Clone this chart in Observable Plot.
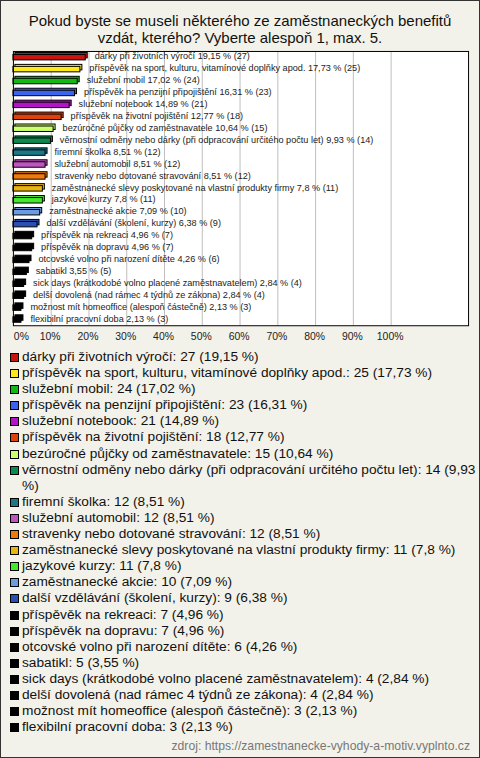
<!DOCTYPE html>
<html>
<head>
<meta charset="utf-8">
<script src="https://cdn.jsdelivr.net/npm/d3@7"></script>
<script src="https://cdn.jsdelivr.net/npm/@observablehq/plot@0.6"></script>
<style>
  html, body { margin: 0; padding: 0; }
  body { width: 480px; height: 758px; overflow: hidden; }
  #page { position: relative; width: 480px; height: 758px; box-sizing: border-box; border: 1px solid #333; background: #f3f2ea; font-family: "Liberation Sans", Arial, sans-serif; overflow: hidden; }
  #title { position: absolute; top: 11px; left: 0; width: 478px; text-align: center; font-size: 15px; line-height: 17px; color: #111; white-space: nowrap; }
  #chart { position: absolute; top: 45px; left: -1px; }
  #legend { position: absolute; top: 348px; left: 9px; width: 477px; font-size: 13.7px; line-height: 16.1px; color: #111; }
  .item { display: flex; align-items: flex-start; }
  .sw { flex: none; width: 7px; height: 7px; border: 1px solid #000; margin-top: 4px; margin-right: 3px; }
  .tx { flex: 1; }
  #footer { position: absolute; top: 738px; right: 9px; font-size: 12.2px; color: #777; }
</style>
</head>
<body>
<div id="page">
  <div id="title">Pokud byste se museli některého ze zaměstnaneckých benefitů<br>vzdát, kterého? Vyberte alespoň 1, max. 5.</div>
  <div id="chart"></div>
  <div id="legend"></div>
  <div id="footer">zdroj: https://zamestnanecke-vyhody-a-motiv.vyplnto.cz</div>
</div>
<script>
const names = [
  "dárky při životních výročí",
  "příspěvěk na sport, kulturu, vitamínové doplňky apod.",
  "služební mobil",
  "příspěvěk na penzijní připojištění",
  "služební notebook",
  "příspěvěk na životní pojištění",
  "bezúročné půjčky od zaměstnavatele",
  "věrnostní odměny nebo dárky (při odpracování určitého počtu let)",
  "firemní školka",
  "služební automobil",
  "stravenky nebo dotované stravování",
  "zaměstnanecké slevy poskytované na vlastní produkty firmy",
  "jazykové kurzy",
  "zaměstnanecké akcie",
  "další vzdělávání (školení, kurzy)",
  "příspěvěk na rekreaci",
  "příspěvěk na dopravu",
  "otcovské volno při narození dítěte",
  "sabatikl",
  "sick days (krátkodobé volno placené zaměstnavatelem)",
  "delší dovolená (nad rámec 4 týdnů ze zákona)",
  "možnost mít homeoffice (alespoň částečně)",
  "flexibilní pracovní doba"
];
const counts = [27, 25, 24, 23, 21, 18, 15, 14, 12, 12, 12, 11, 11, 10, 9, 7, 7, 6, 5, 4, 4, 3, 3];
const percents = [19.15, 17.73, 17.02, 16.31, 14.89, 12.77, 10.64, 9.93, 8.51, 8.51, 8.51, 7.8, 7.8, 7.09, 6.38, 4.96, 4.96, 4.26, 3.55, 2.84, 2.84, 2.13, 2.13];
const colors = [
  "#c8140c", "#ffe81a", "#14b814", "#3a64f0", "#b414c8", "#e0400c",
  "#ccff70", "#0c8a50", "#1a7888", "#c054c0", "#ee7a0c", "#e8b410",
  "#44e82c", "#6c9ce0", "#2850b4",
  "#000000", "#000000", "#000000", "#000000", "#000000", "#000000", "#000000", "#000000"
];
const tickValues = [0, 10, 20, 30, 40, 50, 60, 70, 80, 90, 100];
const tickLabels = ["0%", "10%", "20%", "30%", "40%", "50%", "60%", "70%", "80%", "90%", "100%"];

const fmt = v => String(v).replace(".", ",");
const data = names.map((n, i) => ({name: n, count: counts[i], pct: percents[i], color: colors[i]}));
const ticks = tickValues.map((v, i) => ({v, label: tickLabels[i]}));

const chart = Plot.plot({
  width: 482,
  height: 302,
  marginLeft: 13,
  marginRight: 11,
  marginTop: 5,
  marginBottom: 21,
  style: {background: "transparent", fontFamily: "Liberation Sans, Arial, sans-serif", overflow: "visible"},
  x: {domain: [0, 120.5], axis: null},
  y: {domain: names, axis: null, padding: 0},
  color: {type: "identity"},
  marks: [
    Plot.frame({fill: "white"}),
    Plot.ruleX(tickValues.slice(1), {stroke: "#bdbdbd"}),
    Plot.barX(data, {x1: 0, x2: "pct", y: "name", fill: "color", stroke: "#000", strokeWidth: 1, insetTop: 3.5, insetBottom: 3, dx: 2, dy: -2}),
    Plot.barX(data, {x1: 0, x2: "pct", y: "name", fill: "color", stroke: "#000", strokeWidth: 1, insetTop: 3.5, insetBottom: 3}),
    Plot.text(data, {x: "pct", y: "name", dx: 9, dy: -1, text: d => `${d.name} ${fmt(d.pct)} % (${d.count})`, textAnchor: "start", fill: "#222", fontSize: 9.2}),
    Plot.frame({stroke: "#000"}),
    Plot.text(ticks.slice(0, 1), {x: "v", text: "label", frameAnchor: "bottom", dy: 14, dx: 8, fill: "#222", fontSize: 10.5}),
    Plot.text(ticks.slice(1), {x: "v", text: "label", frameAnchor: "bottom", dy: 14, dx: -1, fill: "#222", fontSize: 10.5})
  ]
});
document.getElementById("chart").appendChild(chart);

const legend = document.getElementById("legend");
data.forEach(d => {
  const item = document.createElement("div");
  item.className = "item";
  const sw = document.createElement("div");
  sw.className = "sw";
  sw.style.background = d.color;
  const tx = document.createElement("div");
  tx.className = "tx";
  tx.textContent = `${d.name}: ${d.count} (${fmt(d.pct)} %)`;
  item.appendChild(sw);
  item.appendChild(tx);
  legend.appendChild(item);
});
</script>
</body>
</html>
